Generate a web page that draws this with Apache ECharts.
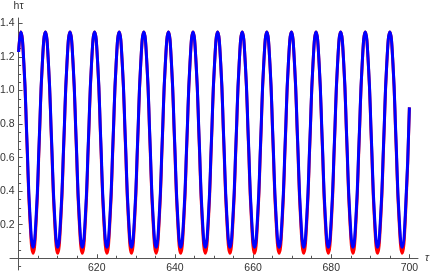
<!DOCTYPE html>
<html><head><meta charset="utf-8">
<script src="https://cdn.jsdelivr.net/npm/echarts@6/dist/echarts.min.js"></script>
<style>html,body{margin:0;padding:0;background:#fff}#c{width:432px;height:275px}</style>
</head><body><div id="c"></div>
<script>
const tau = [600,
600.56,601.35,602.13,602.92,603.71,604.50,605.28,606.07,
606.86,607.64,608.43,609.22,610.00,610.79,611.58,612.37,
613.15,613.94,614.73,615.51,616.30,617.09,617.87,618.66,
619.45,620.24,621.02,621.81,622.60,623.38,624.17,624.96,
625.74,626.53,627.32,628.11,628.89,629.68,630.47,631.25,
632.04,632.83,633.61,634.40,635.19,635.98,636.76,637.55,
638.34,639.12,639.91,640.70,641.48,642.27,643.06,643.85,
644.63,645.42,646.21,646.99,647.78,648.57,649.35,650.14,
650.93,651.72,652.50,653.29,654.08,654.86,655.65,656.44,
657.22,658.01,658.80,659.59,660.37,661.16,661.95,662.73,
663.52,664.31,665.09,665.88,666.67,667.46,668.24,669.03,
669.82,670.60,671.39,672.18,672.96,673.75,674.54,675.33,
676.11,676.90,677.69,678.47,679.26,680.05,680.83,681.62,
682.41,683.20,683.98,684.77,685.56,686.34,687.13,687.92,
688.70,689.49,690.28,691.07,691.85,692.64,693.43,694.21,
695.00,695.79,696.57,697.36,698.15,698.94,
700];
const hBlue = [1.23,
1.35,1.162,0.708,0.253,0.065,0.253,0.708,1.162,
1.35,1.162,0.708,0.253,0.065,0.253,0.708,1.162,
1.35,1.162,0.708,0.253,0.065,0.253,0.708,1.162,
1.35,1.162,0.708,0.253,0.065,0.253,0.708,1.162,
1.35,1.162,0.708,0.253,0.065,0.253,0.708,1.162,
1.35,1.162,0.708,0.253,0.065,0.253,0.708,1.162,
1.35,1.162,0.708,0.253,0.065,0.253,0.708,1.162,
1.35,1.162,0.708,0.253,0.065,0.253,0.708,1.162,
1.35,1.162,0.708,0.253,0.065,0.253,0.708,1.162,
1.35,1.162,0.708,0.253,0.065,0.253,0.708,1.162,
1.35,1.162,0.708,0.253,0.065,0.253,0.708,1.162,
1.35,1.162,0.708,0.253,0.065,0.253,0.708,1.162,
1.35,1.162,0.708,0.253,0.065,0.253,0.708,1.162,
1.35,1.162,0.708,0.253,0.065,0.253,0.708,1.162,
1.35,1.162,0.708,0.253,0.065,0.253,0.708,1.162,
1.35,1.162,0.708,0.253,0.065,0.253,
0.9];
const hRed = [1.23,
1.35,1.157,0.69,0.223,0.03,0.223,0.69,1.157,
1.35,1.157,0.69,0.223,0.03,0.223,0.69,1.157,
1.35,1.157,0.69,0.223,0.03,0.223,0.69,1.157,
1.35,1.157,0.69,0.223,0.03,0.223,0.69,1.157,
1.35,1.157,0.69,0.223,0.03,0.223,0.69,1.157,
1.35,1.157,0.69,0.223,0.03,0.223,0.69,1.157,
1.35,1.157,0.69,0.223,0.03,0.223,0.69,1.157,
1.35,1.157,0.69,0.223,0.03,0.223,0.69,1.157,
1.35,1.157,0.69,0.223,0.03,0.223,0.69,1.157,
1.35,1.157,0.69,0.223,0.03,0.223,0.69,1.157,
1.35,1.157,0.69,0.223,0.03,0.223,0.69,1.157,
1.35,1.157,0.69,0.223,0.03,0.223,0.69,1.157,
1.35,1.157,0.69,0.223,0.03,0.223,0.69,1.157,
1.35,1.157,0.69,0.223,0.03,0.223,0.69,1.157,
1.35,1.157,0.69,0.223,0.03,0.223,0.69,1.157,
1.35,1.157,0.69,0.223,0.03,0.223,
0.9];
const xTickLabels = [620, 640, 660, 680, 700];
const xMinorTicks = [600,605,610,615,625,630,635,645,650,655,665,670,675,685,690,695];
const yTickLabels = [0.2, 0.4, 0.6, 0.8, 1.0, 1.2, 1.4];
const yMinorTicks = [-0.05,0.05,0.1,0.15,0.25,0.3,0.35,0.45,0.5,0.55,0.65,0.7,0.75,0.85,0.9,0.95,1.05,1.1,1.15,1.25,1.3,1.35];

const axisColor = '#555';
const labelColor = '#333';
const font = 'Liberation Sans, Arial, sans-serif';
const X_MIN = 597.8, X_MAX = 702.2, Y_MIN = -0.07, Y_MAX = 1.433;
const X_ORIGIN = 600, Y_ORIGIN = 0;

const W = 432, H = 275;
const G = {left: 10, right: 14, top: 18, bottom: 5};
const gw = W - G.left - G.right, gh = H - G.top - G.bottom;
// shift axes from grid edges onto the origin (600, 0)
const yAxisOffset = -(X_ORIGIN - X_MIN) / (X_MAX - X_MIN) * gw;
const xAxisOffset = -(Y_ORIGIN - Y_MIN) / (Y_MAX - Y_MIN) * gh;

const chart = echarts.init(document.getElementById('c'), null, {renderer: 'canvas'});
chart.setOption({
  animation: false,
  backgroundColor: '#fff',
  grid: {left: G.left, right: G.right, top: G.top, bottom: G.bottom, containLabel: false, outerBoundsMode: 'none'},
  xAxis: [{
    type: 'value', min: X_MIN, max: X_MAX, position: 'bottom', offset: xAxisOffset,
    name: 'τ', nameLocation: 'end', nameGap: 7,
    nameTextStyle: {color: labelColor, fontSize: 10.5, fontFamily: font, fontStyle: 'italic'},
    axisLine: {onZero: false, lineStyle: {color: axisColor, width: 1}},
    axisTick: {inside: true, length: 4, customValues: xTickLabels, lineStyle: {color: axisColor}},
    axisLabel: {customValues: xTickLabels, margin: 4, color: labelColor, fontSize: 10.5, fontFamily: font},
    splitLine: {show: false}
  }, {
    type: 'value', min: X_MIN, max: X_MAX, position: 'bottom', offset: xAxisOffset,
    axisLine: {show: false, onZero: false},
    axisTick: {inside: true, length: 2.5, customValues: xMinorTicks, lineStyle: {color: axisColor}},
    axisLabel: {show: false},
    splitLine: {show: false}
  }],
  yAxis: [{
    type: 'value', min: Y_MIN, max: Y_MAX, position: 'left', offset: yAxisOffset,
    name: 'hτ', nameLocation: 'end', nameGap: 6,
    nameTextStyle: {color: labelColor, fontSize: 10.5, fontFamily: font, align: 'center'},
    axisLine: {onZero: false, lineStyle: {color: axisColor, width: 1}},
    axisTick: {inside: true, length: 4, customValues: yTickLabels, lineStyle: {color: axisColor}},
    axisLabel: {customValues: yTickLabels, margin: 4, color: labelColor, fontSize: 10.5, fontFamily: font,
      formatter: v => Number(v).toFixed(1)},
    splitLine: {show: false}
  }, {
    type: 'value', min: Y_MIN, max: Y_MAX, position: 'left', offset: yAxisOffset,
    axisLine: {show: false, onZero: false},
    axisTick: {inside: true, length: 2.5, customValues: yMinorTicks, lineStyle: {color: axisColor}},
    axisLabel: {show: false},
    splitLine: {show: false}
  }],
  series: [{
    type: 'line', name: 'red', xAxisIndex: 0, yAxisIndex: 0,
    data: tau.map((t, i) => [t, hRed[i]]),
    smooth: 0.5, showSymbol: false, symbol: 'none',
    lineStyle: {color: '#ff0000', width: 3}, z: 2
  }, {
    type: 'line', name: 'blue', xAxisIndex: 0, yAxisIndex: 0,
    data: tau.map((t, i) => [t, hBlue[i]]),
    smooth: 0.5, showSymbol: false, symbol: 'none',
    lineStyle: {color: '#0000ff', width: 3}, z: 3
  }]
});
</script></body></html>
